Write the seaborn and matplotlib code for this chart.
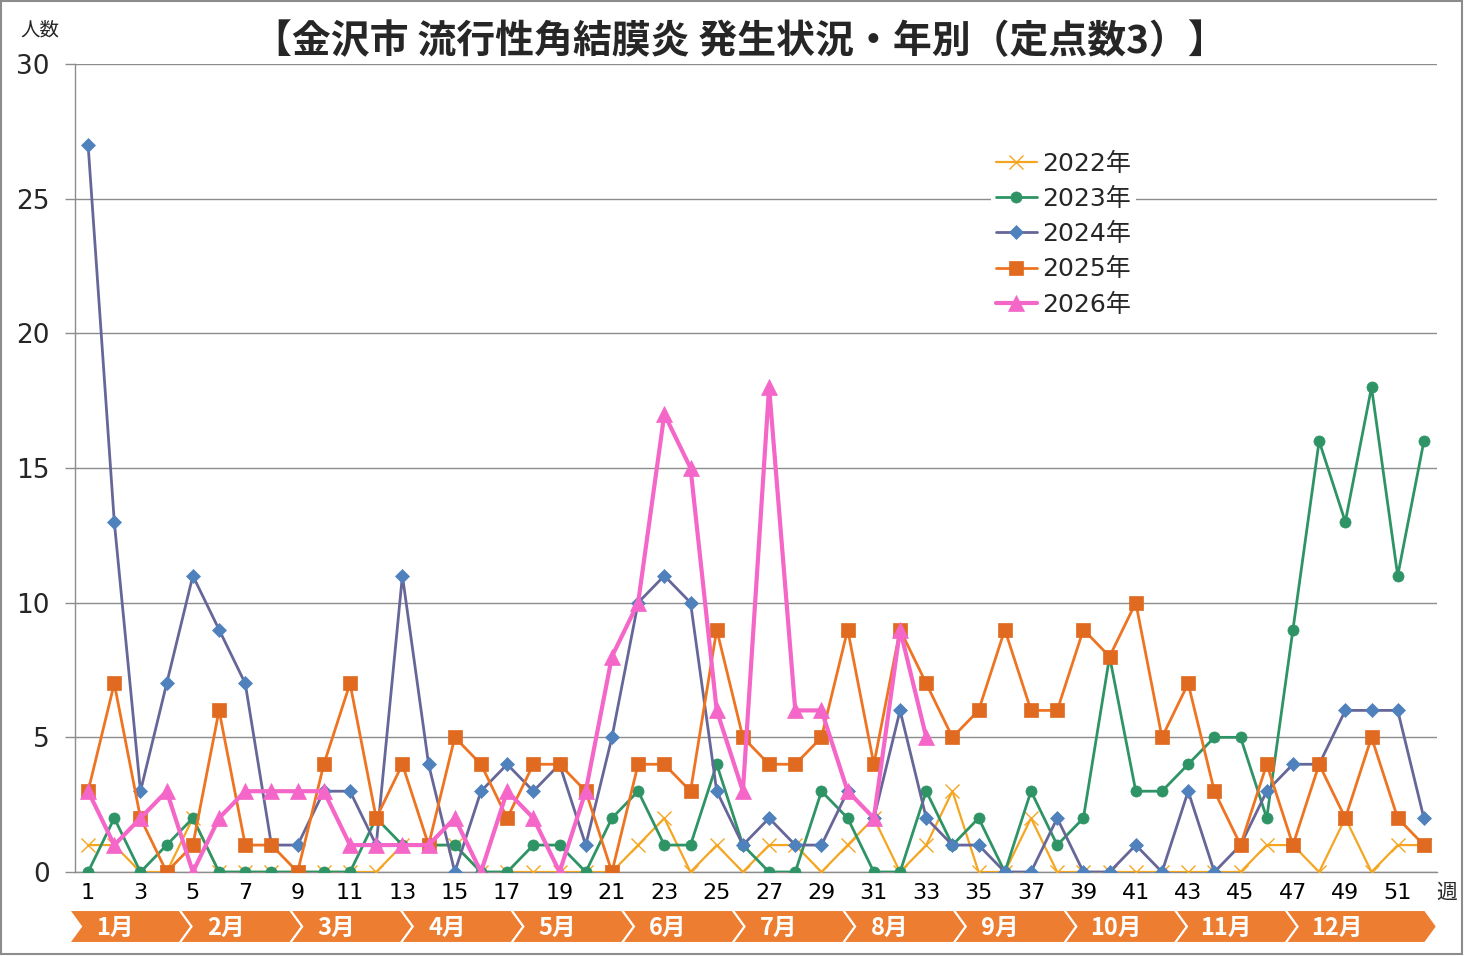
import numpy as np
import pandas as pd
import seaborn as sns
import matplotlib.pyplot as plt
from matplotlib.patches import Polygon, Rectangle

# data (weekly counts)
weeks = list(range(1, 53))
y2022 = [1, 1, 0, 0, 2, 0, 0, 0, 0, 0, 0, 0, 1, 1, 1, 0, 0, 0, 0, 0, 0, 1, 2, 0, 1, 0,
         1, 1, 0, 1, 2, 0, 1, 3, 0, 0, 2, 0, 0, 0, 0, 0, 0, 0, 0, 1, 1, 0, 2, 0, 1, 1]
y2023 = [0, 2, 0, 1, 2, 0, 0, 0, 0, 0, 0, 2, 1, 1, 1, 0, 0, 1, 1, 0, 2, 3, 1, 1, 4, 1,
         0, 0, 3, 2, 0, 0, 3, 1, 2, 0, 3, 1, 2, 8, 3, 3, 4, 5, 5, 2, 9, 16, 13, 18, 11, 16]
y2024 = [27, 13, 3, 7, 11, 9, 7, 1, 1, 3, 3, 1, 11, 4, 0, 3, 4, 3, 4, 1, 5, 10, 11, 10, 3, 1,
         2, 1, 1, 3, 2, 6, 2, 1, 1, 0, 0, 2, 0, 0, 1, 0, 3, 0, 1, 3, 4, 4, 6, 6, 6, 2]
y2025 = [3, 7, 2, 0, 1, 6, 1, 1, 0, 4, 7, 2, 4, 1, 5, 4, 2, 4, 4, 3, 0, 4, 4, 3, 9, 5,
         4, 4, 5, 9, 4, 9, 7, 5, 6, 9, 6, 6, 9, 8, 10, 5, 7, 3, 1, 4, 1, 4, 2, 5, 2, 1]
y2026 = [3, 1, 2, 3, 0, 2, 3, 3, 3, 3, 1, 1, 1, 1, 2, 0, 3, 2, 0, 3, 8, 10, 17, 15, 6, 3,
         18, 6, 6, 3, 2, 9, 5]
years = ["2022年", "2023年", "2024年", "2025年", "2026年"]
months = [f"{m}月" for m in range(1, 13)]
xtick_labels = [str(w) for w in range(1, 53, 2)]

W, H = 1464, 956
sns.set_theme(style="white")
plt.rcParams['font.family'] = ['DejaVu Sans', 'Noto Sans CJK JP']
cjk = ['Noto Sans CJK JP', 'DejaVu Sans']

fig = plt.figure(figsize=(W / 100, H / 100), dpi=100)

# pixel-space background axes for the frame and month ribbon
bg = fig.add_axes([0, 0, 1, 1], zorder=0)
bg.set_xlim(0, W)
bg.set_ylim(H, 0)
bg.axis('off')
bg.add_patch(Rectangle((1, 1), W - 3, H - 3, fill=False, edgecolor='#8c8c8c', lw=1.5))

top, bot = 910, 943
mid = (top + bot) / 2
d = 12
seg = 110.6
x_start = 69
for i, m in enumerate(months):
    x0 = x_start + i * seg
    x1 = x_start + (i + 1) * seg if i < 11 else 1425
    poly = Polygon([(x0, top), (x1, top), (x1 + d, mid), (x1, bot), (x0, bot), (x0 + d, mid)],
                   closed=True, facecolor='#ED7D31', edgecolor='white', lw=1.5)
    bg.add_patch(poly)
    bg.text(x0 + 46 + (5 if len(m) > 2 else 0), mid + 1, m, color='white', fontsize=17,
            fontweight='bold', ha='center', va='center', family=cjk)

ax = fig.add_axes([75 / W, (H - 872) / H, (1437 - 75) / W, (872 - 64) / H], zorder=1)
ax.patch.set_alpha(0)

df = pd.DataFrame({"週": weeks, "2022年": y2022, "2023年": y2023,
                   "2024年": y2024, "2025年": y2025})
df2026 = pd.DataFrame({"週": weeks[:len(y2026)], "2026年": y2026})

styles = {
    "2022年": dict(color='#F4A622', marker='x', markersize=10, linewidth=1.6,
                   markeredgecolor='#F4A622', markeredgewidth=1.0),
    "2023年": dict(color='#2E9466', marker='o', markersize=8, linewidth=2.0,
                   markeredgecolor='#2E9466', markeredgewidth=0.5),
    "2024年": dict(color='#666699', marker='D', markersize=7, linewidth=2.0,
                   markerfacecolor='#4F81BD', markeredgecolor='#4F81BD', markeredgewidth=0.5),
    "2025年": dict(color='#EE7422', marker='s', markersize=10, linewidth=2.0,
                   markerfacecolor='#E06A20', markeredgecolor='#E06A20', markeredgewidth=0.5),
    "2026年": dict(color='#F466C8', marker='^', markersize=11, linewidth=3.0,
                   markeredgecolor='#F466C8', markeredgewidth=0.5),
}
for yr in years:
    data = df2026 if yr == "2026年" else df
    sns.lineplot(data=data, x="週", y=yr, ax=ax, label=yr, estimator=None,
                 zorder=3, **styles[yr])

grid_c = '#8c8c8c'
ax.set_xlim(0.5, 52.5)
ax.set_ylim(0, 30)
ax.set_yticks(range(0, 31, 5))
ax.yaxis.grid(True, color=grid_c, lw=1)
ax.xaxis.grid(False)
ax.set_xticks(range(1, 53, 2))
ax.set_xticklabels(xtick_labels)
ax.set_xticks(np.arange(0.5, 53, 1), minor=True)
ax.tick_params(axis='x', which='major', length=0, pad=8, labelsize=16, colors='black')
ax.tick_params(axis='x', which='minor', length=7, width=1, color=grid_c, direction='out')
ax.tick_params(axis='y', which='major', length=7, width=1, color=grid_c, pad=11,
               labelsize=19, left=True, direction='out')
for s in ['top', 'right']:
    ax.spines[s].set_visible(False)
for s in ['left', 'bottom']:
    ax.spines[s].set_color(grid_c)
    ax.spines[s].set_linewidth(1)
ax.set_xlabel("")
ax.set_ylabel("")

leg = ax.legend(loc='upper left', bbox_to_anchor=(978 / W, 1 - 134 / H),
                bbox_transform=fig.transFigure, fontsize=18, frameon=True,
                facecolor='white', edgecolor='none', framealpha=1, numpoints=1,
                handlelength=1.65, handletextpad=0.2, labelspacing=0.45, borderpad=0.2)

fig.text(740 / W, 1 - 42 / H, "【金沢市 流行性角結膜炎 発生状況・年別（定点数3）】",
         fontsize=28, fontweight='bold', ha='center', va='center', family=cjk)
fig.text(40 / W, 1 - 30 / H, "人数", fontsize=14, ha='center', va='center', family=cjk)
fig.text(1447 / W, 1 - 893 / H, "週", fontsize=15, ha='center', va='center', family=cjk)

fig.savefig("out.png", dpi=100)
